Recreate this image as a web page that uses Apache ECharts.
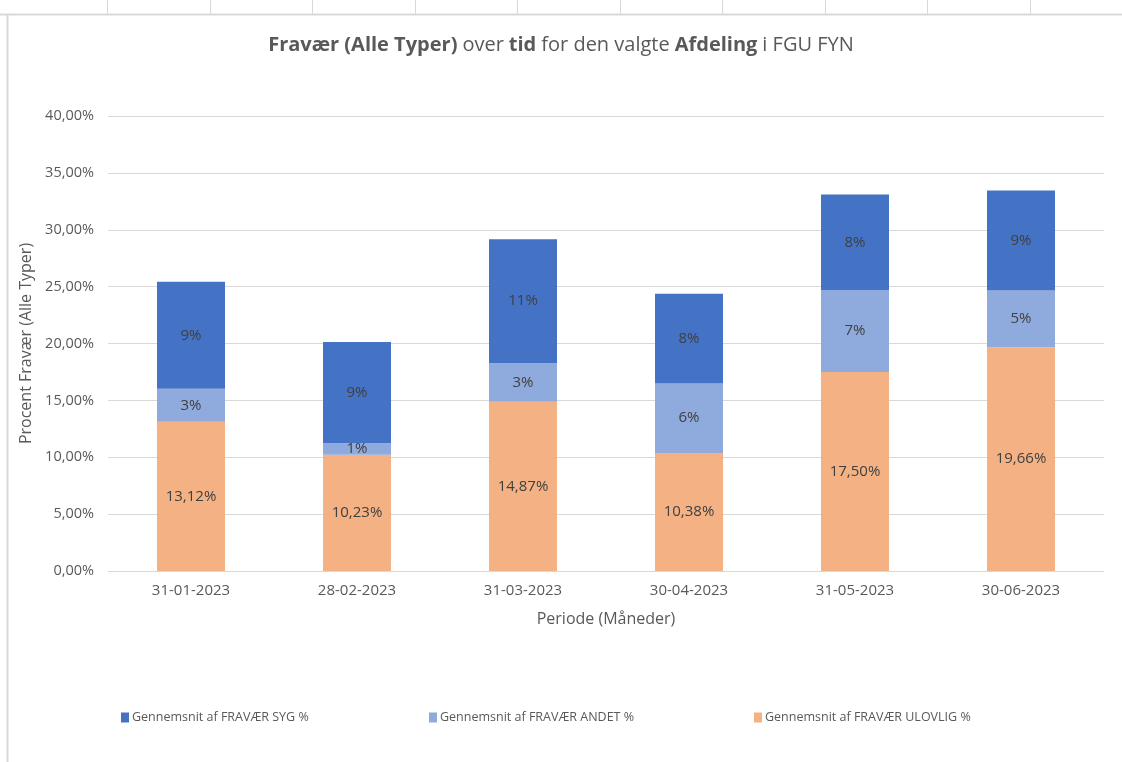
<!DOCTYPE html>
<html>
<head>
    <meta charset="utf-8">
    <script src="https://cdn.jsdelivr.net/npm/echarts@6/dist/echarts.min.js"></script>
    <style>
        body { margin: 0; background: #fff; }
    </style>
</head>
<body>
    <div id="main" style="width: 1122px;height:762px;"></div>
    <script type="text/javascript">
        var myChart = echarts.init(document.getElementById('main'));

        // data
        var perioder = ['31-01-2023', '28-02-2023', '31-03-2023', '30-04-2023', '31-05-2023', '30-06-2023'];
        var ulovlig = [13.12, 10.23, 14.87, 10.38, 17.50, 19.66];
        var andet = [2.9, 1.0, 3.4, 6.1, 7.2, 5.0];
        var syg = [9.4, 8.9, 10.9, 7.9, 8.4, 8.8];
        var yTicks = [0, 5, 10, 15, 20, 25, 30, 35, 40];

        var navnSyg = 'Gennemsnit af FRAVÆR SYG %';
        var navnAndet = 'Gennemsnit af FRAVÆR ANDET %';
        var navnUlovlig = 'Gennemsnit af FRAVÆR ULOVLIG %';

        var font = 'Open Sans';
        var txt = '#595959';

        function komma(v, d) {
            return v.toFixed(d).replace('.', ',') + '%';
        }

        // excel-ish cell lines above the chart box
        var cellLines = [];
        [107, 210, 312, 415, 517, 620, 722, 825, 927, 1030].forEach(function (x) {
            cellLines.push({
                type: 'line', silent: true,
                shape: { x1: x + 0.5, y1: 0, x2: x + 0.5, y2: 14 },
                style: { stroke: '#d9d9d9', lineWidth: 1 }
            });
        });
        cellLines.push({
            type: 'line', silent: true,
            shape: { x1: 0, y1: 14.5, x2: 1122, y2: 14.5 },
            style: { stroke: '#d9d9d9', lineWidth: 2 }
        });
        cellLines.push({
            type: 'line', silent: true,
            shape: { x1: 7.5, y1: 14, x2: 7.5, y2: 762 },
            style: { stroke: '#d9d9d9', lineWidth: 2 }
        });

        function legende(navn, left) {
            return {
                data: [navn],
                left: left,
                top: 706,
                icon: 'rect',
                itemWidth: 8,
                itemHeight: 10,
                itemGap: 3,
                selectedMode: false,
                textStyle: { fontFamily: font, fontSize: 12.5, color: txt, padding: [0, 0, 0, -2] }
            };
        }

        var option = {
            backgroundColor: '#fff',
            animation: false,
            graphic: cellLines,
            title: {
                text: '{b|Fravær (Alle Typer)} {n|over} {b|tid} {n|for den valgte} {b|Afdeling} {n|i FGU FYN}',
                left: 'center',
                top: 30,
                textStyle: {
                    fontWeight: 'normal',
                    rich: {
                        b: { fontFamily: font, fontSize: 20, fontWeight: 'bold', color: txt },
                        n: { fontFamily: font, fontSize: 20, fontWeight: 'normal', color: txt }
                    }
                }
            },
            legend: [
                legende(navnSyg, 116),
                legende(navnAndet, 424),
                legende(navnUlovlig, 749)
            ],
            grid: {
                left: 108,
                right: 18,
                top: 116,
                bottom: 191,
                containLabel: false
            },
            xAxis: {
                type: 'category',
                data: perioder,
                name: 'Periode (Måneder)',
                nameLocation: 'middle',
                nameGap: 40,
                nameTextStyle: { fontFamily: font, fontSize: 16, color: txt },
                axisLine: { lineStyle: { color: '#d9d9d9' } },
                axisTick: { show: false },
                axisLabel: { fontFamily: font, fontSize: 15, color: txt, margin: 12 }
            },
            yAxis: {
                type: 'value',
                min: yTicks[0],
                max: yTicks[yTicks.length - 1],
                interval: 5,
                name: 'Procent Fravær (Alle Typer)',
                nameLocation: 'middle',
                nameGap: 71,
                nameTextStyle: { fontFamily: font, fontSize: 16, color: txt },
                axisLine: { show: false },
                axisTick: { show: false },
                splitLine: { lineStyle: { color: '#d9d9d9' } },
                axisLabel: {
                    fontFamily: font, fontSize: 14.5, color: txt, margin: 14,
                    formatter: function (v) { return komma(v, 2); }
                }
            },
            series: [
                {
                    name: navnUlovlig,
                    type: 'bar',
                    stack: 'fravaer',
                    barWidth: 68,
                    data: ulovlig,
                    itemStyle: { color: '#F4B183' },
                    label: {
                        show: true, position: 'inside',
                        fontFamily: font, fontSize: 15, color: '#404040',
                        formatter: function (p) { return komma(p.value, 2); }
                    }
                },
                {
                    name: navnAndet,
                    type: 'bar',
                    stack: 'fravaer',
                    barWidth: 68,
                    data: andet,
                    itemStyle: { color: '#8FAADC' },
                    label: {
                        show: true, position: 'inside',
                        fontFamily: font, fontSize: 15, color: '#404040',
                        formatter: function (p) { return Math.round(p.value) + '%'; }
                    }
                },
                {
                    name: navnSyg,
                    type: 'bar',
                    stack: 'fravaer',
                    barWidth: 68,
                    data: syg,
                    itemStyle: { color: '#4472C4' },
                    label: {
                        show: true, position: 'inside',
                        fontFamily: font, fontSize: 15, color: '#404040',
                        formatter: function (p) { return Math.round(p.value) + '%'; }
                    }
                }
            ]
        };

        myChart.setOption(option);
    </script>
</body>
</html>
